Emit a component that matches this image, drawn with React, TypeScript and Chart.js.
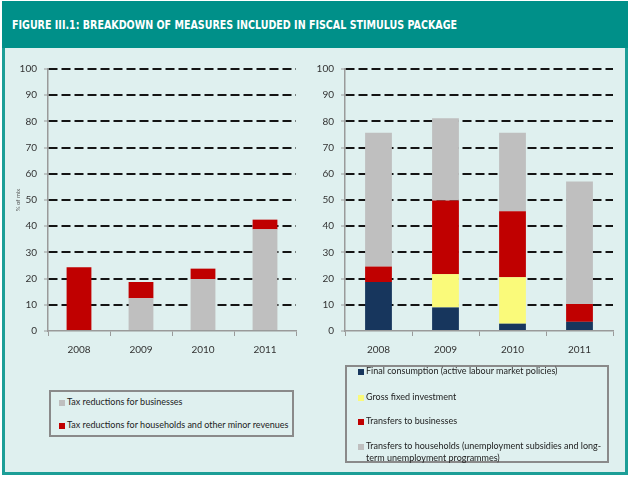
import React, { useEffect, useLayoutEffect, useRef } from "react";
import { Chart, registerables } from "chart.js";

Chart.register(...registerables);

const years = ["2008", "2009", "2010", "2011"];
const yTicks = [0, 10, 20, 30, 40, 50, 60, 70, 80, 90, 100];

// Left panel
const taxBusinesses = [0, 12.5, 19.8, 38.8];
const taxHouseholds = [24.3, 6.2, 4.0, 3.7];

// Right panel
const finalConsumption = [18.7, 9.0, 2.8, 3.5];
const grossInvestment = [0, 12.7, 17.7, 0];
const transfersBusinesses = [5.9, 28.1, 25.2, 6.8];
const transfersHouseholds = [51.1, 31.4, 30.0, 46.8];

const GRAY = "#BFBFBF";
const RED = "#C00000";
const NAVY = "#17365D";
const YELLOW = "#FAFA7A";
const FONT = "Lato, 'Open Sans', sans-serif";
const TITLE = "FIGURE III.1: BREAKDOWN OF MEASURES INCLUDED IN FISCAL STIMULUS PACKAGE";

function makeOptions(yTitle: string | null): any {
  return {
    responsive: false,
    maintainAspectRatio: false,
    animation: false,
    layout: { padding: { top: 12, right: 12, left: 0, bottom: 0 } },
    plugins: { legend: { display: false }, tooltip: { enabled: false } },
    scales: {
      x: {
        stacked: true,
        grid: {
          display: true,
          drawOnChartArea: false,
          drawTicks: true,
          tickLength: 5,
          color: "#9a9a9a",
          lineWidth: 1,
          offset: true,
        },
        border: { display: true, color: "#9a9a9a", width: 1.5 },
        ticks: { color: "#333", font: { family: FONT, size: 10 }, padding: 8 },
        afterFit: (s: any) => {
          s.height = 30;
        },
      },
      y: {
        stacked: true,
        min: 0,
        max: 100,
        afterBuildTicks: (s: any) => {
          s.ticks = yTicks.map((v) => ({ value: v }));
        },
        ticks: { color: "#333", font: { family: FONT, size: 10 }, padding: 7 },
        grid: {
          color: (c: any) => (c.tick && c.tick.value === 0 ? "rgba(0,0,0,0)" : "#141414"),
          lineWidth: 2,
          drawTicks: true,
          tickLength: 4,
          tickColor: "#9a9a9a",
          tickWidth: 1,
        },
        border: { display: true, color: "#9a9a9a", width: 1.5, dash: [9, 4] },
        title: {
          display: !!yTitle,
          text: yTitle || "",
          color: "#555",
          font: { family: FONT, size: 6 },
          padding: { top: 6, bottom: 0 },
        },
        afterFit: (s: any) => {
          s.width = 40;
        },
      },
    },
  };
}

function ChartCanvas(props: { left: number; top: number; width: number; height: number; datasets: any[]; yTitle: string | null }) {
  const ref = useRef<HTMLCanvasElement | null>(null);
  useEffect(() => {
    if (!ref.current) return;
    const chart = new Chart(ref.current, {
      type: "bar",
      data: { labels: years, datasets: props.datasets },
      options: makeOptions(props.yTitle),
    });
    return () => chart.destroy();
  }, []);
  return (
    <canvas
      ref={ref}
      width={props.width}
      height={props.height}
      style={{ position: "absolute", left: props.left, top: props.top, width: props.width, height: props.height, display: "block" }}
    />
  );
}

const barDefaults = { barPercentage: 0.4, categoryPercentage: 1.0, borderWidth: 0 };

function LegendRow(props: { color: string; lines: string[]; top: number; left: number }) {
  return (
    <div style={{ position: "absolute", left: props.left, top: props.top, display: "flex", alignItems: "flex-start" }}>
      <div style={{ width: 6, height: 6, background: props.color, marginTop: 3.5, marginRight: 2, flex: "none" }} />
      <div style={{ fontFamily: FONT, fontSize: 9, lineHeight: "11.6px", color: "#222", whiteSpace: "nowrap" }}>
        {props.lines.map((l, i) => (
          <div key={i}>{l}</div>
        ))}
      </div>
    </div>
  );
}

function Title() {
  const ref = useRef<HTMLDivElement | null>(null);
  useLayoutEffect(() => {
    const el = ref.current;
    if (!el) return;
    const w = el.getBoundingClientRect().width;
    if (w > 0) el.style.transform = `scaleX(${445 / w})`;
  }, []);
  return (
    <div
      ref={ref}
      style={{
        position: "absolute",
        left: 12,
        top: 16,
        fontFamily: "'DejaVu Sans', sans-serif",
        fontWeight: "bold",
        fontSize: 12.5,
        lineHeight: "18px",
        color: "#fff",
        whiteSpace: "nowrap",
        transformOrigin: "0 50%",
      }}
    >
      {TITLE}
    </div>
  );
}

export default function App() {
  const leftSets = [
    { ...barDefaults, label: "Tax reductions for businesses", data: taxBusinesses, backgroundColor: GRAY },
    { ...barDefaults, label: "Tax reductions for households and other minor revenues", data: taxHouseholds, backgroundColor: RED },
  ];
  const rightSets = [
    { ...barDefaults, label: "Final consumption (active labour market policies)", data: finalConsumption, backgroundColor: NAVY },
    { ...barDefaults, label: "Gross fixed investment", data: grossInvestment, backgroundColor: YELLOW },
    { ...barDefaults, label: "Transfers to businesses", data: transfersBusinesses, backgroundColor: RED },
    { ...barDefaults, label: "Transfers to households (unemployment subsidies and long-term unemployment programmes)", data: transfersHouseholds, backgroundColor: GRAY },
  ];
  return (
    <div style={{ position: "absolute", left: 0, top: 0, width: 630, height: 478, background: "#fff", overflow: "hidden" }}>
      <div style={{ position: "absolute", left: 2, top: 1, width: 626, height: 474, background: "#1c9e97" }} />
      <div style={{ position: "absolute", left: 2, top: 1, width: 626, height: 47, background: "#009089" }} />
      <div style={{ position: "absolute", left: 5, top: 48, width: 620, height: 424, background: "#DFF0EF" }} />
      <Title />
      <ChartCanvas left={8} top={56} width={300} height={305} datasets={leftSets} yTitle="% of mix" />
      <ChartCanvas left={305} top={56} width={320} height={305} datasets={rightSets} yTitle={null} />

      <div style={{ position: "absolute", left: 49, top: 390, width: 245, height: 47, boxSizing: "border-box", border: "2px solid #8a8a8a" }} />
      <LegendRow color={GRAY} lines={["Tax reductions for businesses"]} top={396} left={59} />
      <LegendRow color={RED} lines={["Tax reductions for households and other minor revenues"]} top={419} left={59} />

      <div style={{ position: "absolute", left: 345, top: 365, width: 264, height: 98, boxSizing: "border-box", border: "2px solid #8a8a8a" }} />
      <LegendRow color={NAVY} lines={["Final consumption (active labour market policies)"]} top={365} left={358} />
      <LegendRow color={YELLOW} lines={["Gross fixed investment"]} top={391} left={358} />
      <LegendRow color={RED} lines={["Transfers to businesses"]} top={415} left={358} />
      <LegendRow
        color={GRAY}
        lines={["Transfers to households (unemployment subsidies and long-", "term unemployment programmes)"]}
        top={440}
        left={358}
      />
    </div>
  );
}
